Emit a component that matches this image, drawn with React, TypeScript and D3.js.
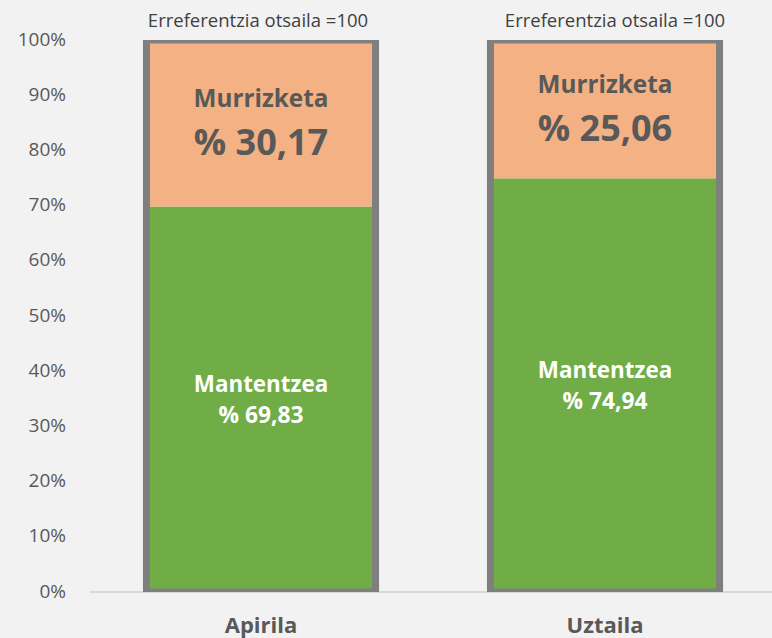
import React from "react";
import * as d3 from "d3";

const categories = ["Apirila", "Uztaila"];
const mantentzea = [69.83, 74.94];
const murrizketa = [30.17, 25.06];
const yTicks = [0, 10, 20, 30, 40, 50, 60, 70, 80, 90, 100];
const refLabel = "Erreferentzia otsaila =100";
const seriesNames = ["Mantentzea", "Murrizketa"];

const W = 772;
const H = 638;
const FONT = "'Open Sans', Lato, sans-serif";

export default function App() {
  const y = d3.scaleLinear().domain([0, 100]).range([592, 40]);
  const x = d3.scaleBand<string>().domain(categories).range([89, 777]).padding(0);
  const bw = x.bandwidth() * 0.666;
  const fmt = (v: number) => "% " + d3.format(".2f")(v).replace(".", ",");
  const stacked = d3.stack<any>().keys(["m", "r"])(
    categories.map((c, i) => ({ c, m: mantentzea[i], r: murrizketa[i] }))
  );
  const refOffsets = [-3, 10];

  return (
    <svg width={W} height={H} style={{ position: "absolute", left: 0, top: 0 }}
      fontFamily={FONT}>
      <rect x={0} y={0} width={W} height={H} fill="#f2f2f2" />
      <defs>
        <clipPath id="plotclip">
          <rect x={0} y={y(100)} width={W} height={y(0) - y(100)} />
        </clipPath>
      </defs>
      {yTicks.map((t) => (
        <text key={t} x={66} y={y(t) - 1} dy="0.35em" textAnchor="end" fontSize={19}
          fill="#595959">{t + "%"}</text>
      ))}
      <line x1={90} x2={W} y1={y(0)} y2={y(0)} stroke="#d9d9d9" strokeWidth={2} />
      <g clipPath="url(#plotclip)">
        {categories.map((c, i) => {
          const cx = (x(c) as number) + x.bandwidth() / 2;
          return (
            <g key={c}>
              <rect x={cx - bw / 2} y={y(stacked[0][i][1])} width={bw}
                height={y(stacked[0][i][0]) - y(stacked[0][i][1])} fill="#70ad47" />
              <rect x={cx - bw / 2} y={y(stacked[1][i][1])} width={bw}
                height={y(stacked[1][i][0]) - y(stacked[1][i][1])} fill="#f4b183" />
              <rect x={cx - bw / 2} y={y(100)} width={bw} height={y(0) - y(100)}
                fill="none" stroke="#7f7f7f" strokeWidth={7} />
            </g>
          );
        })}
      </g>
      {categories.map((c, i) => {
        const cx = (x(c) as number) + x.bandwidth() / 2;
        const gMid = (y(stacked[0][i][0]) + y(stacked[0][i][1])) / 2;
        const oMid = (y(stacked[1][i][0]) + y(stacked[1][i][1])) / 2;
        return (
          <g key={"l" + c}>
            <text x={cx + refOffsets[i]} y={27} textAnchor="middle" fontSize={18.5} fill="#404040">
              {refLabel}
            </text>
            <text x={cx} y={oMid - 16} textAnchor="middle" fontSize={24.3} fontWeight="bold"
              fill="#595959">{seriesNames[1]}</text>
            <text x={cx} y={oMid + 32} textAnchor="middle" fontSize={36} fontWeight="bold"
              fill="#595959">{fmt(murrizketa[i])}</text>
            <text x={cx} y={gMid - 7} textAnchor="middle" fontSize={22.4} fontWeight="bold"
              fill="#ffffff">{seriesNames[0]}</text>
            <text x={cx} y={gMid + 24} textAnchor="middle" fontSize={22.8} fontWeight="bold"
              fill="#ffffff">{fmt(mantentzea[i])}</text>
            <text x={cx} y={633} textAnchor="middle" fontSize={22} fontWeight="bold"
              fill="#595959">{c}</text>
          </g>
        );
      })}
    </svg>
  );
}
